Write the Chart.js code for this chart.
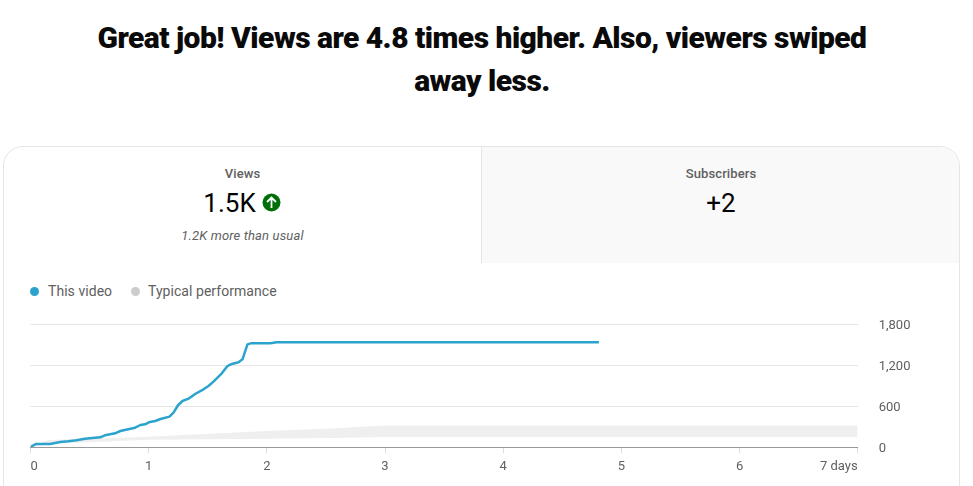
<!DOCTYPE html>
<html><head><meta charset="utf-8">
<style>
html,body{margin:0;padding:0;background:#fff;width:973px;height:486px;overflow:hidden;font-family:Roboto,sans-serif}
.abs{position:absolute}
#title{left:87px;width:790px;top:16px;text-align:center;font-size:30px;line-height:43px;font-weight:900;color:#0a0a0a;letter-spacing:-.52px}
#card{left:3px;top:146px;width:955px;height:400px;border:1px solid #e5e5e5;border-radius:20px;box-sizing:content-box;overflow:hidden}
#rightPanel{left:477px;top:0;width:479px;height:116px;background:#f9f9f9;border-left:1px solid #e5e5e5}
.t{position:absolute;text-align:center;white-space:nowrap;transform:translateX(-50%)}
.lab{font-size:13px;font-weight:500;letter-spacing:.1px;color:#606060;line-height:16px;top:165.5px}
.num{font-size:26px;color:#030303;line-height:32px;top:187px}
#sub{font-size:13px;letter-spacing:.15px;font-style:italic;color:#606060;line-height:16px;top:228px}
.dot{position:absolute;width:9px;height:9px;border-radius:50%;top:287px}
.leg{position:absolute;font-size:14px;letter-spacing:.05px;color:#606060;line-height:18px;top:282px;white-space:nowrap}
#chartWrap{left:0;top:300px;width:973px;height:186px}
</style></head><body>
<div id="title" class="abs">Great job! Views are 4.8 times higher. Also, viewers swiped away less.</div>
<div id="card" class="abs"><div id="rightPanel" class="abs"></div></div>
<div class="t lab" style="left:242.5px">Views</div>
<div class="t num" style="left:229.5px">1.5K</div>
<svg class="abs" style="left:262px;top:193px" width="19" height="19" viewBox="0 0 19 19"><circle cx="9.5" cy="9.5" r="9" fill="#006f07"/><path d="M9.5 15V4.5M5 9l4.5-4.5L14 9" fill="none" stroke="#fff" stroke-width="1.8"/></svg>
<div class="t" id="sub" style="left:242.5px">1.2K more than usual</div>
<div class="t lab" style="left:721px">Subscribers</div>
<div class="t num" style="left:721px">+2</div>
<div class="dot" style="left:30px;background:#2ba3cd"></div><div class="leg" style="left:48px">This video</div>
<div class="dot" style="left:130.5px;background:#ccc"></div><div class="leg" style="left:148px">Typical performance</div>
<div id="chartWrap" class="abs"><canvas id="c" width="973" height="186"></canvas></div>
<script src="https://cdn.jsdelivr.net/npm/chart.js@4/dist/chart.umd.min.js"></script>
<script>
const videoDays=[0,.045,.166,.251,.32,.39,.46,.59,.63,.716,.76,.885,.93,.97,1.01,1.055,1.10,1.176,1.21,1.25,1.286,1.337,1.393,1.464,1.506,1.548,1.619,1.667,1.703,1.76,1.794,1.836,1.864,2.03,2.084,4.81];
const videoViews=[0,44,44,73,83,98,122,141,171,200,234,283,322,332,366,380,410,444,502,615,673,707,776,844,893,956,1078,1185,1215,1239,1283,1502,1517,1517,1532,1532];
const bandDays=[0,.15,1,2,2.55,3,7];
const bandUpper=[0,102,150,234,270,315,315];
const bandLower=[0,44,105,120,130,148,148];
const yTicks=[0,600,1200,1800];
const xLabels=['0','1','2','3','4','5','6','7 days'];
const zip=(xs,ys)=>xs.map((x,i)=>({x,y:ys[i]}));
new Chart(document.getElementById('c'),{
 type:'line',
 data:{datasets:[
  {label:'Typical performance',data:zip(bandDays,bandUpper),borderWidth:0,pointRadius:0,fill:'+1',backgroundColor:'#efefef',tension:0,order:3},
  {label:'Typical lower',data:zip(bandDays,bandLower),borderWidth:0,pointRadius:0,fill:false,tension:0,order:3},
  {label:'This video',data:zip(videoDays,videoViews),borderColor:'#2ba3cd',borderWidth:2.5,pointRadius:0,fill:false,tension:0,order:1,borderJoinStyle:'round',borderCapStyle:'butt'}
 ]},
 options:{
  responsive:false,animation:false,
  layout:{padding:{left:30.5,top:24,right:0,bottom:0}},
  plugins:{legend:{display:false},tooltip:{enabled:false}},
  scales:{
   x:{type:'linear',min:0,max:7,afterBuildTicks:s=>{s.ticks=xLabels.map((_,i)=>({value:i}))},
      grid:{drawOnChartArea:false,color:'#ddd',tickLength:6,tickColor:'#ddd'},
      border:{color:'#999'},
      ticks:{align:'inner',autoSkip:false,maxRotation:0,padding:6,color:'#606060',font:{family:'Roboto',size:13},callback:(v,i)=>xLabels[i]},
      afterFit:s=>{s.height=39;s.paddingLeft=0;s.paddingRight=0}},
   y:{type:'linear',position:'right',min:0,max:1800,afterBuildTicks:s=>{s.ticks=yTicks.map(v=>({value:v}))},
      grid:{color:'#e6e6e6',drawTicks:false},
      border:{display:false},
      ticks:{padding:21,color:'#606060',font:{family:'Roboto',size:13,lineHeight:'3px'},callback:v=>['',v.toLocaleString('en-US')]},
      afterFit:s=>{s.width=115.3;s.paddingTop=0;s.paddingBottom=0}}
  }
 }
});
</script>
</body></html>
